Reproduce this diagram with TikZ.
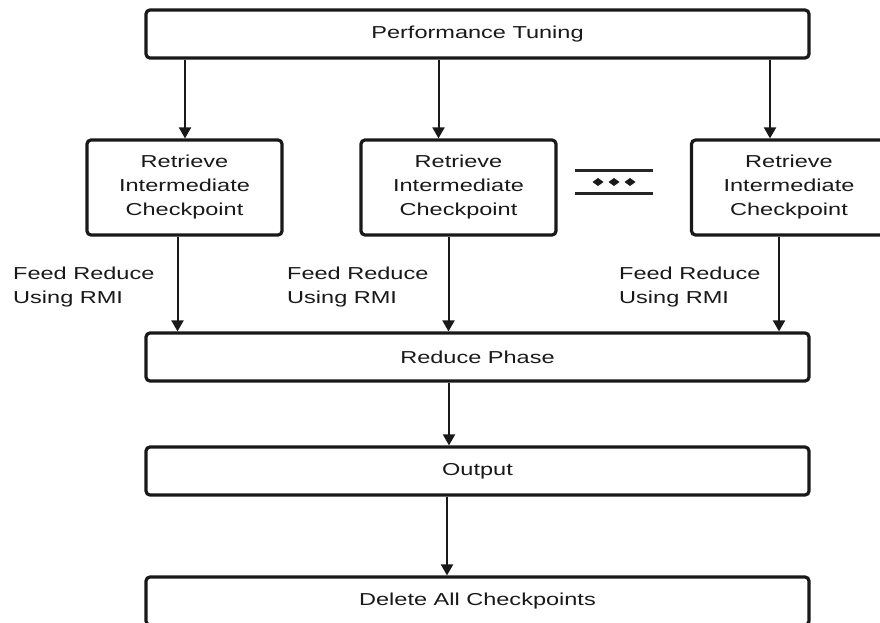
\documentclass[tikz,border=0pt]{standalone}
\usepackage{fontspec}
\setmainfont{Liberation Sans}[FakeStretch=1.36]
\usetikzlibrary{arrows.meta}
\begin{document}
\begin{tikzpicture}[x=1pt,y=-1pt,
  txt/.style={text=black!90, font=\fontsize{17.3}{24}\selectfont},
  box/.style={txt, draw=black!90, line width=3.2pt, rounded corners=4pt,
    fill=white, inner sep=0pt, align=center},
  wide/.style={box, minimum width=663pt, minimum height=48pt},
  fetch/.style={box, minimum width=195pt, minimum height=95pt},
  arr/.style={line width=2pt, draw=black!90,
    -{Triangle[width=12pt,length=11pt]}},
  lbl/.style={txt, anchor=west, align=left, inner sep=0pt},
  rule/.style={line width=3pt, draw=black!85}]

\clip (0,0) rectangle (880,623);
\fill[white] (0,0) rectangle (880,623);

% main stages
\node[wide] (tune)   at (477.5,34)  {Performance Tuning};
\node[wide] (reduce) at (477.5,357) {Reduce Phase};
\node[wide] (out)    at (477.5,471) {Output};
\node[wide] (del)    at (477.5,601) {Delete All Checkpoints};

% checkpoint retrieval
\node[fetch] (r1) at (184.5,187.5) {Retrieve\\Intermediate\\Checkpoint};
\node[fetch] (r2) at (458.5,187.5) {Retrieve\\Intermediate\\Checkpoint};
\node[fetch] (r3) at (789,187.5)   {Retrieve\\Intermediate\\Checkpoint};

% arrow positions
\path ([xshift=0.5pt]r1.north)  coordinate (t1)
      ([xshift=-20pt]r2.north)  coordinate (t2)
      ([xshift=-19pt]r3.north)  coordinate (t3)
      ([xshift=-7pt]r1.south)   coordinate (b1)
      ([xshift=-10pt]r2.south)  coordinate (b2)
      ([xshift=-10pt]r3.south)  coordinate (b3)
      ([xshift=-28.5pt]reduce.south) coordinate (o1)
      ([xshift=-30.5pt]out.south)    coordinate (o2);

\draw[arr] (tune.south -| t1) -- (t1);
\draw[arr] (tune.south -| t2) -- (t2);
\draw[arr] (tune.south -| t3) -- (t3);

\draw[arr] (b1) -- (reduce.north -| b1);
\draw[arr] (b2) -- (reduce.north -| b2);
\draw[arr] (b3) -- (reduce.north -| b3);

\draw[arr] (o1) -- (out.north -| o1);
\draw[arr] (o2) -- (del.north -| o2);

% connector labels
\node[lbl] (f1) at (13,287)  {Feed Reduce\\Using RMI};
\node[lbl] (f2) at (287,287) {Feed Reduce\\Using RMI};
\node[lbl] (f3) at (619,287) {Feed Reduce\\Using RMI};

% ellipsis between the retrieval boxes
\draw[rule] (575,170) -- (653,170);
\draw[rule] (575,193) -- (653,193);
\foreach \cx in {598,614,630}
  \fill[black!90] (\cx-5.5,182) -- (\cx,178) -- (\cx+5.5,182) -- (\cx,186) -- cycle;
\end{tikzpicture}
\end{document}
